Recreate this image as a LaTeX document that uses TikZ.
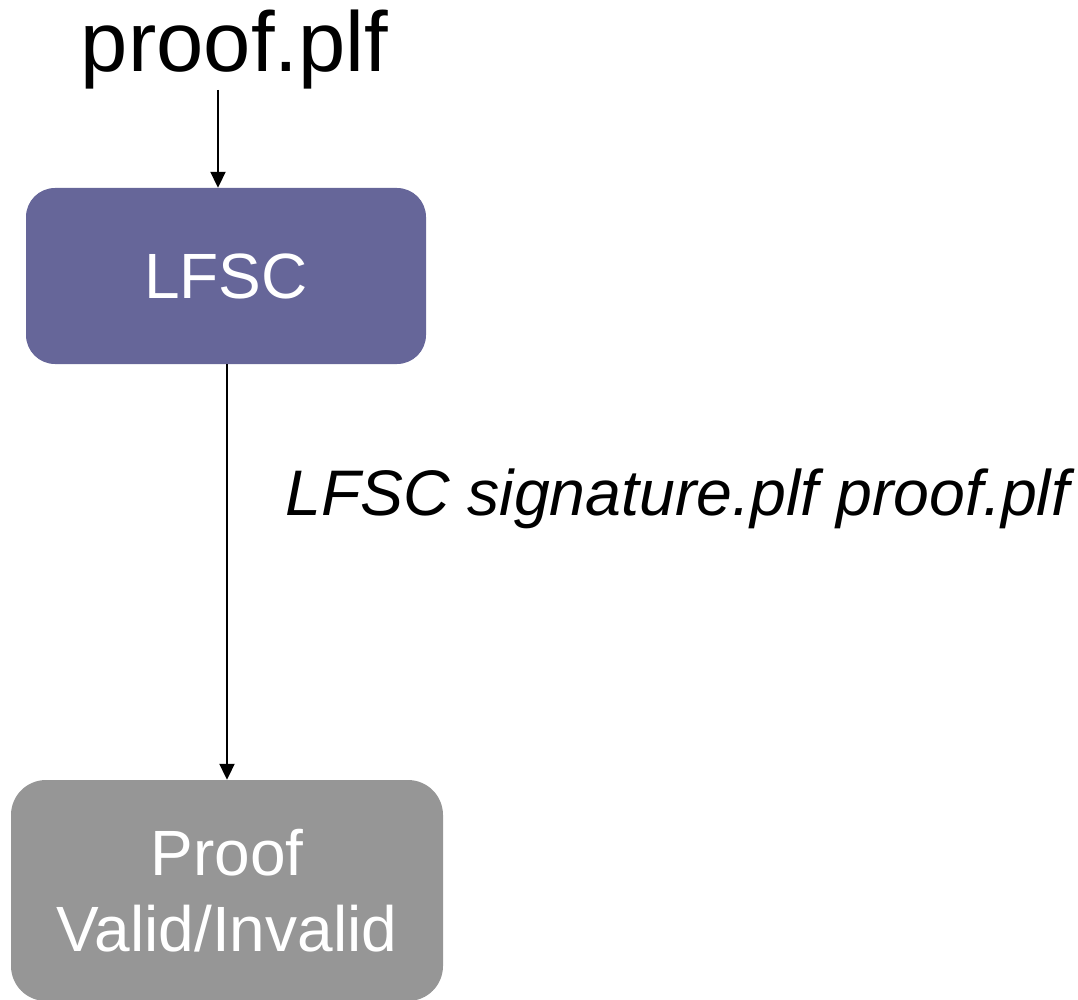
\documentclass[tikz,border=0pt]{standalone}
\usepackage{fontspec}
\setmainfont{Liberation Sans}
\usetikzlibrary{arrows.meta}
\definecolor{boxpurple}{HTML}{666699}
\definecolor{boxgray}{HTML}{969696}
\tikzset{
  flowbox/.style={rounded corners=#1, draw=none, text=white, align=center,
    font=\fontsize{64}{76}\selectfont, inner sep=0pt},
  arr/.style={line width=2pt, -{Triangle[length=16pt,width=15pt]}},
}
\begin{document}
\begin{tikzpicture}[x=1pt, y=-1pt]
  \useasboundingbox (0,0) rectangle (1078,1000);
  % input file name
  \node[anchor=base, inner sep=0pt, font=\fontsize{85}{100}\selectfont]
    (proof) at (234.5,72) {proof.plf};
  % checker box
  \node[flowbox=29pt, fill=boxpurple, minimum width=400pt, minimum height=176pt]
    (lfsc) at (226,276) {LFSC};
  % result box
  \node[flowbox=35pt, fill=boxgray, minimum width=432pt, minimum height=221pt]
    (result) at (227,890.5) {Proof\\Valid/Invalid};
  % invocation label
  \node[anchor=base west, inner sep=0pt, font=\fontsize{64.4}{77}\selectfont\itshape]
    (cmd) at (285,515) {LFSC signature.plf proof.plf};
  % connectors
  \draw[arr] ([xshift=-16.5pt]proof.south) -- ([xshift=-8pt]lfsc.north);
  \draw[arr] (lfsc.south -| result.north) -- (result.north);
\end{tikzpicture}
\end{document}
